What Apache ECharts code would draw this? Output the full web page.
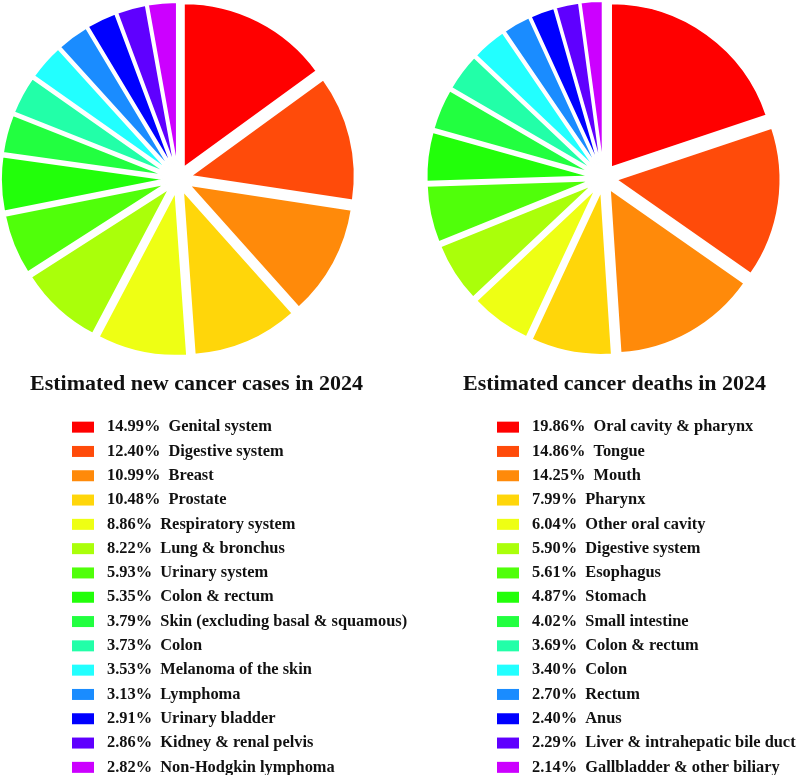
<!DOCTYPE html>
<html>
<head>
<meta charset="utf-8">
<script src="https://cdn.jsdelivr.net/npm/echarts@6/dist/echarts.min.js"></script>
<style>
html,body{margin:0;padding:0;background:#fff;}
#chart{width:797px;height:775px;}
</style>
</head>
<body>
<div id="chart"></div>
<script>
const casesTitle = 'Estimated new cancer cases in 2024';
const deathsTitle = 'Estimated cancer deaths in 2024';

const caseLabels = ['Genital system','Digestive system','Breast','Prostate','Respiratory system','Lung & bronchus','Urinary system','Colon & rectum','Skin (excluding basal & squamous)','Colon','Melanoma of the skin','Lymphoma','Urinary bladder','Kidney & renal pelvis','Non-Hodgkin lymphoma'];
const caseValues = [14.99,12.40,10.99,10.48,8.86,8.22,5.93,5.35,3.79,3.73,3.53,3.13,2.91,2.86,2.82];

const deathLabels = ['Oral cavity & pharynx','Tongue','Mouth','Pharynx','Other oral cavity','Digestive system','Esophagus','Stomach','Small intestine','Colon & rectum','Colon','Rectum','Anus','Liver & intrahepatic bile duct','Gallbladder & other biliary'];
const deathValues = [19.86,14.86,14.25,7.99,6.04,5.90,5.61,4.87,4.02,3.69,3.40,2.70,2.40,2.29,2.14];

const palette = ['#FF0000','#FF4B0A','#FF8A0A','#FFD60A','#EEFF14','#AAFF0A','#50FF0A','#22FF0A','#22FF40','#22FFA8','#22FFFF','#1A8CFF','#0000FF','#5F00FF','#CC00FF'];

const FONT = 'Liberation Serif';

function pieData(prefix, values) {
  return values.map((v, i) => ({
    name: prefix + i,
    value: v,
    selected: true,
    itemStyle: { color: palette[i] }
  }));
}

function makePie(prefix, values, center, r) {
  return {
    type: 'pie',
    center: center,
    radius: [0, r],
    startAngle: 90,
    clockwise: true,
    selectedMode: 'multiple',
    selectedOffset: 13,
    avoidLabelOverlap: false,
    label: { show: false },
    labelLine: { show: false },
    itemStyle: { borderColor: '#ffffff', borderWidth: 1.8 },
    select: { itemStyle: { borderColor: '#ffffff', borderWidth: 1.8 } },
    emphasis: { disabled: true },
    silent: true,
    animation: false,
    data: pieData(prefix, values)
  };
}

function makeLegend(prefix, labels, values, left) {
  return {
    orient: 'vertical',
    left: left,
    top: 415,
    height: 400,
    padding: 0,
    icon: 'rect',
    itemWidth: 22,
    itemHeight: 11,
    itemGap: 0,
    selectedMode: false,
    itemStyle: { borderWidth: 0 },
    data: labels.map((_, i) => prefix + i),
    formatter: function (name) {
      const i = +name.slice(prefix.length);
      return values[i].toFixed(2) + '%  ' + labels[i];
    },
    textStyle: {
      fontFamily: FONT,
      fontWeight: 'bold',
      fontSize: 16.4,
      color: '#111',
      lineHeight: 19.3,
      padding: [0, 0, 5, 8]
    }
  };
}

const chart = echarts.init(document.getElementById('chart'), null, { renderer: 'canvas' });
chart.setOption({
  backgroundColor: '#ffffff',
  animation: false,
  title: [
    { text: casesTitle, left: 30, top: 373, padding: 0, textStyle: { fontFamily: FONT, fontWeight: 'bold', fontSize: 22, color: '#111' } },
    { text: deathsTitle, left: 463, top: 373, padding: 0, textStyle: { fontFamily: FONT, fontWeight: 'bold', fontSize: 22, color: '#111' } }
  ],
  legend: [
    makeLegend('n', caseLabels, caseValues, 72),
    makeLegend('d', deathLabels, deathValues, 497)
  ],
  series: [
    makePie('n', caseValues, [178, 179], 164),
    makePie('d', deathValues, [603.5, 178], 164)
  ]
});
</script>
</body>
</html>
